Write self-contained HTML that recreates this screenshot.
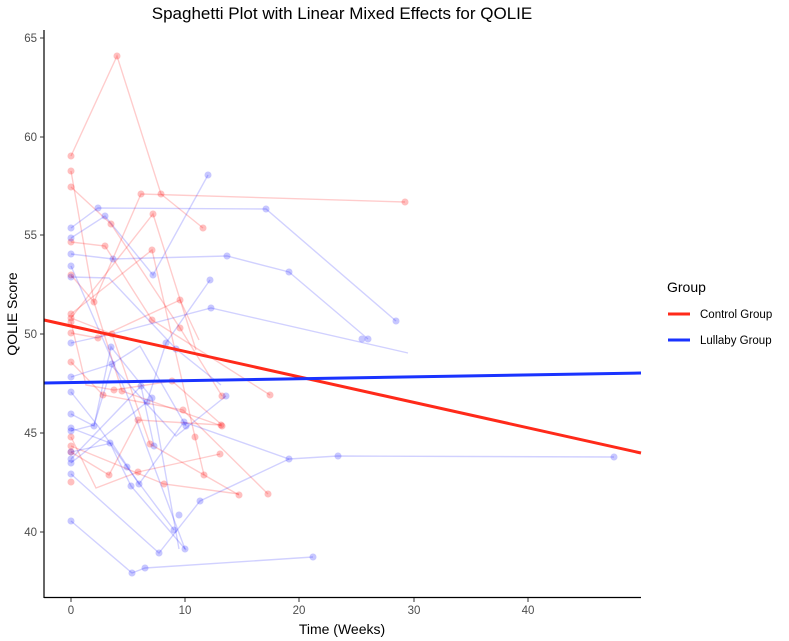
<!DOCTYPE html>
<html><head><meta charset="utf-8"><style>
html,body{margin:0;padding:0;background:#fff;}
svg{display:block;font-family:"Liberation Sans",sans-serif;}
</style></head><body>
<svg width="789" height="641" viewBox="0 0 789 641" xmlns="http://www.w3.org/2000/svg">
<rect width="789" height="641" fill="#fff"/>
<text x="342" y="19" font-size="17" text-anchor="middle" fill="#000">Spaghetti Plot with Linear Mixed Effects for QOLIE</text>
<g fill="none" stroke-width="1.4">
<g stroke="rgba(255,0,0,0.2)">
<polyline points="71,156 117,56 161,194 203,228"/>
<polyline points="71,171 94,302 141,194 405,202"/>
<polyline points="71,187 111,224 180,328 222,396"/>
<polyline points="71,242 105,246 152,320 270,395"/>
<polyline points="71,275 94,302 122,391 222,426"/>
<polyline points="71,314 152,250 195,437 204,475"/>
<polyline points="71,318 112,334 150,444 239,495"/>
<polyline points="71,322 86,385 114,390 172,381 222,425"/>
<polyline points="71,362 103,395 183,410 268,494"/>
<polyline points="71,452 109,475 138,420 221,425"/>
<polyline points="71,437 96,488 138,472 220,454"/>
<polyline points="71,446 164,484 239,494"/>
<polyline points="71,333 98,338 180,300 199,340"/>
<polyline points="71,318 153,214 196,350"/>
</g>
<g stroke="rgba(0,0,255,0.18)">
<polyline points="71,228 98,208 266,209 396,321"/>
<polyline points="71,238 105,216 153,275 208,175"/>
<polyline points="71,254 113,259 227,256 289,272 368,339"/>
<polyline points="71,266 126,392 185,549"/>
<polyline points="71,277 109,278 176,349 221,385"/>
<polyline points="71,343 112,334 211,308 408,353"/>
<polyline points="71,377 112,364 140,346 186,426"/>
<polyline points="71,392 98,426 127,467 174,530"/>
<polyline points="71,414 94,426 111,347 152,398 179,549"/>
<polyline points="71,428 110,443 131,486 186,550"/>
<polyline points="71,431 94,425 112,366 176,436 226,396"/>
<polyline points="71,521 132,573 145,568 313,557"/>
<polyline points="71,459 141,386 154,446"/>
<polyline points="71,452 112,443 139,484 184,422 289,459 338,456 614,457"/>
<polyline points="71,474 159,553 200,501 289,459"/>
<polyline points="71,463 147,402 166,343 210,280"/>
</g>
</g>
<g stroke="none">
<g fill="rgba(255,0,0,0.25)">
<circle cx="71" cy="156" r="3.5"/><circle cx="117" cy="56" r="3.5"/><circle cx="161" cy="194" r="3.5"/><circle cx="203" cy="228" r="3.5"/>
<circle cx="71" cy="171" r="3.5"/><circle cx="94" cy="302" r="3.5"/><circle cx="141" cy="194" r="3.5"/><circle cx="405" cy="202" r="3.5"/>
<circle cx="71" cy="187" r="3.5"/><circle cx="111" cy="224" r="3.5"/><circle cx="180" cy="328" r="3.5"/><circle cx="222" cy="396" r="3.5"/>
<circle cx="71" cy="242" r="3.5"/><circle cx="105" cy="246" r="3.5"/><circle cx="152" cy="320" r="3.5"/><circle cx="270" cy="395" r="3.5"/>
<circle cx="71" cy="275" r="3.5"/><circle cx="122" cy="391" r="3.5"/><circle cx="222" cy="426" r="3.5"/>
<circle cx="71" cy="314" r="3.5"/><circle cx="152" cy="250" r="3.5"/><circle cx="195" cy="437" r="3.5"/><circle cx="204" cy="475" r="3.5"/>
<circle cx="71" cy="318" r="3.5"/><circle cx="112" cy="334" r="3.5"/><circle cx="150" cy="444" r="3.5"/><circle cx="239" cy="495" r="3.5"/>
<circle cx="71" cy="322" r="3.5"/><circle cx="114" cy="390" r="3.5"/><circle cx="172" cy="381" r="3.5"/>
<circle cx="71" cy="362" r="3.5"/><circle cx="103" cy="395" r="3.5"/><circle cx="183" cy="410" r="3.5"/><circle cx="268" cy="494" r="3.5"/>
<circle cx="71" cy="452" r="3.5"/><circle cx="109" cy="475" r="3.5"/><circle cx="138" cy="420" r="3.5"/><circle cx="221" cy="425" r="3.5"/>
<circle cx="71" cy="437" r="3.5"/><circle cx="138" cy="472" r="3.5"/><circle cx="220" cy="454" r="3.5"/>
<circle cx="71" cy="446" r="3.5"/><circle cx="164" cy="484" r="3.5"/>
<circle cx="71" cy="333" r="3.5"/><circle cx="98" cy="338" r="3.5"/><circle cx="180" cy="300" r="3.5"/><circle cx="153" cy="214" r="3.5"/>
<circle cx="71" cy="482" r="3.5"/>
</g>
<g fill="rgba(0,0,255,0.22)">
<circle cx="71" cy="228" r="3.5"/><circle cx="98" cy="208" r="3.5"/><circle cx="266" cy="209" r="3.5"/><circle cx="396" cy="321" r="3.5"/>
<circle cx="71" cy="238" r="3.5"/><circle cx="105" cy="216" r="3.5"/><circle cx="153" cy="275" r="3.5"/><circle cx="208" cy="175" r="3.5"/>
<circle cx="71" cy="254" r="3.5"/><circle cx="113" cy="259" r="3.5"/><circle cx="227" cy="256" r="3.5"/><circle cx="289" cy="272" r="3.5"/><circle cx="368" cy="339" r="3.5"/>
<circle cx="71" cy="266" r="3.5"/><circle cx="185" cy="549" r="3.5"/>
<circle cx="71" cy="277" r="3.5"/><circle cx="176" cy="349" r="3.5"/>
<circle cx="71" cy="343" r="3.5"/><circle cx="211" cy="308" r="3.5"/><circle cx="362" cy="339" r="3.5"/>
<circle cx="71" cy="377" r="3.5"/><circle cx="112" cy="364" r="3.5"/><circle cx="186" cy="426" r="3.5"/>
<circle cx="71" cy="392" r="3.5"/><circle cx="127" cy="467" r="3.5"/><circle cx="174" cy="530" r="3.5"/>
<circle cx="71" cy="414" r="3.5"/><circle cx="111" cy="347" r="3.5"/><circle cx="152" cy="398" r="3.5"/><circle cx="179" cy="515" r="3.5"/>
<circle cx="71" cy="428" r="3.5"/><circle cx="110" cy="443" r="3.5"/><circle cx="131" cy="486" r="3.5"/>
<circle cx="71" cy="431" r="3.5"/><circle cx="226" cy="396" r="3.5"/>
<circle cx="71" cy="521" r="3.5"/><circle cx="132" cy="573" r="3.5"/><circle cx="145" cy="568" r="3.5"/><circle cx="313" cy="557" r="3.5"/>
<circle cx="71" cy="459" r="3.5"/><circle cx="141" cy="386" r="3.5"/><circle cx="154" cy="446" r="3.5"/>
<circle cx="71" cy="452" r="3.5"/><circle cx="139" cy="484" r="3.5"/><circle cx="184" cy="422" r="3.5"/><circle cx="289" cy="459" r="3.5"/><circle cx="338" cy="456" r="3.5"/><circle cx="614" cy="457" r="3.5"/>
<circle cx="71" cy="474" r="3.5"/><circle cx="159" cy="553" r="3.5"/><circle cx="200" cy="501" r="3.5"/>
<circle cx="71" cy="463" r="3.5"/><circle cx="147" cy="402" r="3.5"/><circle cx="166" cy="343" r="3.5"/><circle cx="210" cy="280" r="3.5"/>
<circle cx="94" cy="426" r="3.5"/>
</g>
</g>
<line x1="44" y1="320" x2="641" y2="453" stroke="#ff2a1a" stroke-width="3"/>
<line x1="44" y1="383" x2="641" y2="373" stroke="#1a33ff" stroke-width="3"/>
<g stroke="#000" stroke-width="1.2">
<line x1="44" y1="30" x2="44" y2="598"/>
<line x1="44" y1="597.5" x2="641" y2="597.5"/>
</g>
<g stroke="#333" stroke-width="1">
<line x1="40" y1="38" x2="44" y2="38"/><line x1="40" y1="137" x2="44" y2="137"/><line x1="40" y1="235" x2="44" y2="235"/>
<line x1="40" y1="334" x2="44" y2="334"/><line x1="40" y1="433" x2="44" y2="433"/><line x1="40" y1="532" x2="44" y2="532"/>
<line x1="71" y1="598" x2="71" y2="602"/><line x1="185" y1="598" x2="185" y2="602"/><line x1="299" y1="598" x2="299" y2="602"/>
<line x1="414" y1="598" x2="414" y2="602"/><line x1="528" y1="598" x2="528" y2="602"/>
</g>
<g font-size="11.5" fill="#4d4d4d" text-anchor="end">
<text x="37" y="42">65</text><text x="37" y="141">60</text><text x="37" y="239">55</text>
<text x="37" y="338">50</text><text x="37" y="437">45</text><text x="37" y="536">40</text>
</g>
<g font-size="11.5" fill="#4d4d4d" text-anchor="middle">
<text x="71" y="614">0</text><text x="185" y="614">10</text><text x="299" y="614">20</text><text x="414" y="614">30</text><text x="528" y="614">40</text>
</g>
<text x="342" y="634" font-size="14" text-anchor="middle" fill="#000">Time (Weeks)</text>
<text transform="translate(17,314) rotate(-90)" font-size="14" text-anchor="middle" fill="#000">QOLIE Score</text>
<text x="667" y="292" font-size="14" fill="#000">Group</text>
<line x1="668" y1="314" x2="690" y2="314" stroke="#ff2a1a" stroke-width="3"/>
<line x1="668" y1="340" x2="690" y2="340" stroke="#1a33ff" stroke-width="3"/>
<text x="700" y="318" font-size="11.5" fill="#000">Control Group</text>
<text x="700" y="344" font-size="11.5" fill="#000">Lullaby Group</text>
</svg>
</body></html>
